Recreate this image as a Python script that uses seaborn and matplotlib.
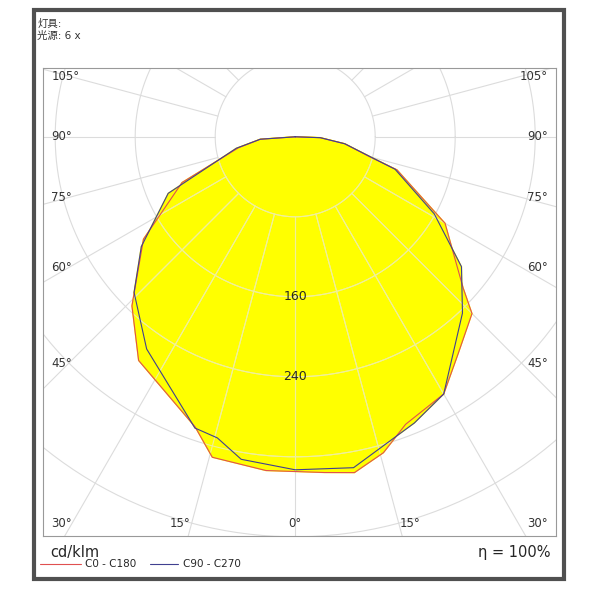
import numpy as np
import pandas as pd
import matplotlib
matplotlib.use("Agg")
import matplotlib.pyplot as plt
import seaborn as sns
from matplotlib.patches import Rectangle

sns.set_style("white")
plt.rcParams["font.family"] = ["DejaVu Sans", "Noto Sans CJK SC"]

# signed gamma angle (0 = straight down), intensity in cd/klm
c0_gamma = [-180, -86, -79, -68, -56, -44, -35, -19, -14.5, -5, 5, 10, 15.6, 21, 30, 37, 45, 48, 60, 72, 75, 82, 88, 180]
c0_int = [0, 35, 58, 122, 183, 235, 273, 307, 331, 335, 337, 341, 328, 308, 297, 271, 250, 226, 173, 107, 77, 50, 25, 0]
c90_gamma = [-180, -86, -79, -66, -54.5, -46, -35, -19, -14.5, -9.5, 0, 10, 22.6, 30, 43.5, 52, 61, 72, 82, 88, 180]
c90_int = [0, 35, 60, 139, 189, 224, 259, 308, 311, 327, 333, 336, 310, 297, 243, 211, 159, 105, 50, 25, 0]
rings = [80, 160, 240, 320, 400, 480, 560]
ring_labels = [160, 240]
side_labels = [105, 90, 75, 60, 45]
bottom_labels = [30, 15, 0]


def to_xy(gamma, intensity):
    g = np.radians(np.asarray(gamma, dtype=float))
    r = np.asarray(intensity, dtype=float)
    return r * np.sin(g), -r * np.cos(g)


def draw_grid(ax, color, zorder, clip=None):
    t = np.linspace(0, 2 * np.pi, 400)
    arts = []
    for r in rings:
        arts += ax.plot(r * np.cos(t), r * np.sin(t), color=color, lw=0.8, zorder=zorder)
    for a in range(0, 360, 15):
        s, c = np.sin(np.radians(a)), -np.cos(np.radians(a))
        arts += ax.plot([80 * s, 900 * s], [80 * c, 900 * c], color=color, lw=0.8, zorder=zorder)
    if clip is not None:
        for art in arts:
            art.set_clip_path(clip)


fig = plt.figure(figsize=(6, 6), dpi=100)
fig.patches.append(Rectangle((0.057, 0.035), 0.883, 0.948, transform=fig.transFigure,
                             fill=False, edgecolor="#505050", linewidth=3))
ax = fig.add_axes([0.072, 0.107, 0.855, 0.78])
xmin, xmax, ymin, ymax = -252, 261, -399, 69

draw_grid(ax, "#dcdcdc", 1)

x0, y0 = to_xy(c0_gamma, c0_int)
x90, y90 = to_xy(c90_gamma, c90_int)
p0 = ax.fill(x0, y0, color="#ffff00", zorder=2)[0]
p90 = ax.fill(x90, y90, color="#ffff00", zorder=2)[0]

# lighter grid over the fill
draw_grid(ax, "#f0f09a", 3, clip=p0)
draw_grid(ax, "#f0f09a", 3, clip=p90)

df0 = pd.DataFrame({"x": x0, "y": y0})
df90 = pd.DataFrame({"x": x90, "y": y90})
sns.lineplot(data=df0, x="x", y="y", sort=False, estimator=None, color="#e05050", lw=0.8, ax=ax, zorder=4)
sns.lineplot(data=df90, x="x", y="y", sort=False, estimator=None, color="#404090", lw=0.8, ax=ax, zorder=5)

for v in ring_labels:
    ax.text(0, -v, str(v), ha="center", va="center", fontsize=9, zorder=6)

for a in side_labels:
    y = 0.0 if a == 90 else -252 / np.tan(np.radians(a)) * 0.9
    ax.text(xmin + 8, y, f"{a}°", ha="left", va="center", fontsize=8.5, color="#333333", zorder=6)
    ax.text(xmax - 8, y, f"{a}°", ha="right", va="center", fontsize=8.5, color="#333333", zorder=6)
for a in bottom_labels:
    if a == 30:
        ax.text(xmin + 8, ymin + 12, f"{a}°", ha="left", va="center", fontsize=8.5, color="#333333", zorder=6)
        ax.text(xmax - 8, ymin + 12, f"{a}°", ha="right", va="center", fontsize=8.5, color="#333333", zorder=6)
    elif a == 0:
        ax.text(0, ymin + 12, "0°", ha="center", va="center", fontsize=8.5, color="#333333", zorder=6)
    else:
        x = 399 * np.tan(np.radians(a)) + 8
        ax.text(-x, ymin + 12, f"{a}°", ha="center", va="center", fontsize=8.5, color="#333333", zorder=6)
        ax.text(x, ymin + 12, f"{a}°", ha="center", va="center", fontsize=8.5, color="#333333", zorder=6)

ax.set_xlim(xmin, xmax)
ax.set_ylim(ymin, ymax)
ax.set_aspect("auto")
ax.set_xticks([])
ax.set_yticks([])
ax.set_xlabel("")
ax.set_ylabel("")
for s in ax.spines.values():
    s.set_color("#999999")
    s.set_linewidth(0.8)

fig.text(0.062, 0.955, "灯具:", fontsize=7.5, color="#333333")
fig.text(0.062, 0.935, "光源: 6 x", fontsize=7.5, color="#333333")
fig.text(0.083, 0.072, "cd/klm", fontsize=10.5)
fig.text(0.918, 0.072, "η = 100%", fontsize=10.5, ha="right")
fig.lines.append(plt.Line2D([0.067, 0.135], [0.06, 0.06], transform=fig.transFigure, color="#e05050", lw=0.8))
fig.text(0.142, 0.06, "C0 - C180", fontsize=7.5, va="center")
fig.lines.append(plt.Line2D([0.25, 0.297], [0.06, 0.06], transform=fig.transFigure, color="#404090", lw=0.8))
fig.text(0.305, 0.06, "C90 - C270", fontsize=7.5, va="center")

fig.savefig("out.png", dpi=100)
